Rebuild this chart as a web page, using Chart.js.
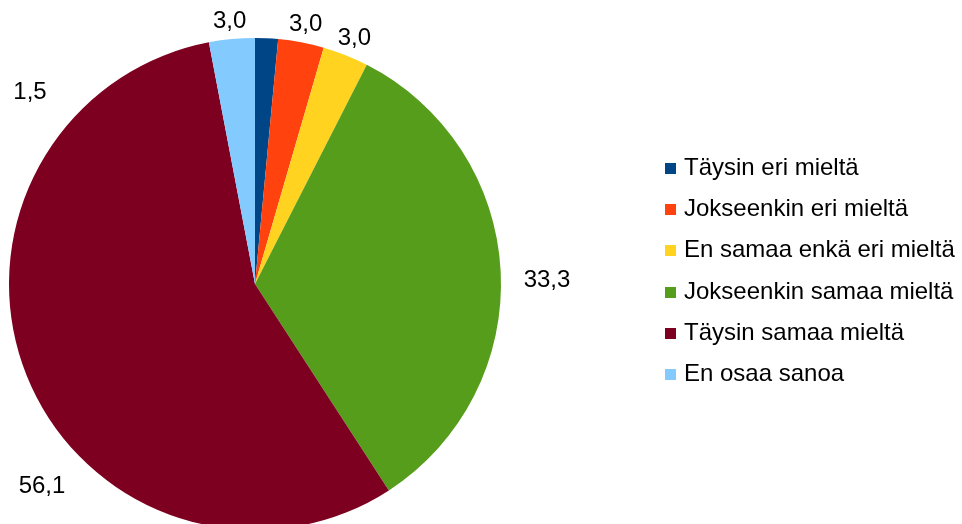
<!DOCTYPE html>
<html>
<head>
<meta charset="utf-8">
<script src="https://cdn.jsdelivr.net/npm/chart.js@4/dist/chart.umd.min.js"></script>
<style>
  html, body { margin: 0; padding: 0; background: #fff; overflow: hidden; width: 962px; height: 524px; }
  #wrap { position: absolute; left: 0; top: 0; width: 962px; height: 568px; }
  #legend { position: absolute; left: 665px; top: 153px; font-family: "Liberation Sans", Arial, sans-serif; font-size: 24px; color: #000; }
  .row { height: 41.2px; line-height: 28px; display: flex; align-items: flex-start; white-space: nowrap; }
  .sw { width: 11px; height: 11px; margin-top: 10px; margin-right: 8px; flex: none; }
</style>
</head>
<body>
<div id="wrap"><canvas id="pie"></canvas></div>
<div id="legend"></div>
<script>
const categories = [
  'Täysin eri mieltä',
  'Jokseenkin eri mieltä',
  'En samaa enkä eri mieltä',
  'Jokseenkin samaa mieltä',
  'Täysin samaa mieltä',
  'En osaa sanoa'
];
const values = [1.5, 3.0, 3.0, 33.3, 56.1, 3.0];
const colors = ['#004586', '#ff420e', '#ffd320', '#579d1c', '#7e0021', '#83caff'];

const fmt = v => v.toFixed(1).replace('.', ',');

// legend next to the pie
const legend = document.getElementById('legend');
categories.forEach((c, i) => {
  const row = document.createElement('div');
  row.className = 'row';
  row.innerHTML = '<div class="sw" style="background:' + colors[i] + '"></div><span>' + c + '</span>';
  legend.appendChild(row);
});

// value labels outside the slices
const outsideLabels = {
  id: 'outsideLabels',
  afterDatasetsDraw(chart) {
    const ctx = chart.ctx;
    const meta = chart.getDatasetMeta(0);
    // some labels sit elsewhere in the original (moved to avoid overlaps)
    const moved = { 0: [-225, -192], 3: [292, -4], 4: [-213, 202] };
    ctx.save();
    ctx.font = '24px "Liberation Sans", Arial, sans-serif';
    ctx.fillStyle = '#000';
    ctx.textAlign = 'center';
    ctx.textBaseline = 'middle';
    meta.data.forEach((arc, i) => {
      const p = arc.getProps(['x', 'y', 'startAngle', 'endAngle', 'outerRadius'], true);
      const txt = fmt(values[i]);
      if (moved[i]) {
        ctx.fillText(txt, p.x + moved[i][0], p.y + moved[i][1]);
        return;
      }
      const a = (p.startAngle + p.endAngle) / 2;
      const dx = Math.cos(a), dy = Math.sin(a);
      const w = ctx.measureText(txt).width;
      const x = p.x + dx * (p.outerRadius + 7) + dx * w / 2;
      const y = p.y + dy * (p.outerRadius + 7) + dy * 11;
      ctx.fillText(txt, x, y);
    });
    ctx.restore();
  }
};

new Chart(document.getElementById('pie'), {
  type: 'pie',
  data: {
    labels: categories,
    datasets: [{
      data: values,
      backgroundColor: colors,
      borderWidth: 0
    }]
  },
  options: {
    responsive: true,
    maintainAspectRatio: false,
    animation: false,
    layout: { padding: { left: 9, right: 461, top: 38, bottom: 38 } },
    plugins: {
      legend: { display: false },
      tooltip: { enabled: false }
    }
  },
  plugins: [outsideLabels]
});
</script>
</body>
</html>
